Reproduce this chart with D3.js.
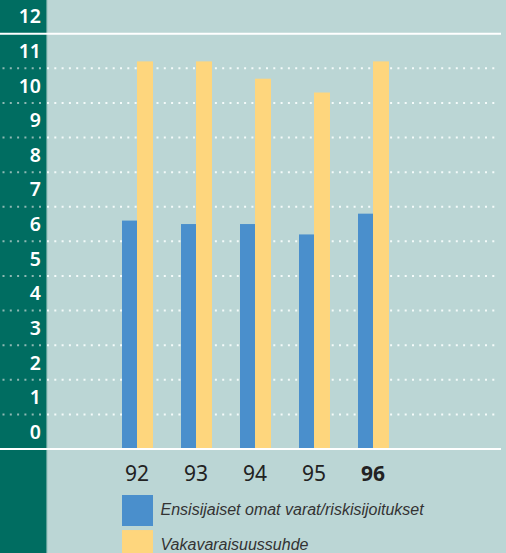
<!DOCTYPE html>
<html>
<head>
<meta charset="utf-8">
<script src="https://cdn.jsdelivr.net/npm/d3@7"></script>
<style>
  html, body { margin: 0; padding: 0; background: #bbd6d5; }
  svg { display: block; }
</style>
</head>
<body>
<svg id="chart" width="506" height="553"></svg>
<script>
const years = ["92", "93", "94", "95", "96"];
const seriesNames = ["Ensisijaiset omat varat/riskisijoitukset", "Vakavaraisuussuhde"];
const tier1 = [6.6, 6.5, 6.5, 6.2, 6.8];
const solvency = [11.2, 11.2, 10.7, 10.3, 11.2];
const yTicks = [0, 1, 2, 3, 4, 5, 6, 7, 8, 9, 10, 11, 12];
const colors = ["#4a8fcc", "#fed67d"];

const svg = d3.select("#chart");
const W = 506, H = 553;

const y = d3.scaleLinear().domain([0, 12]).range([449, 33.7]);
const x = d3.scaleBand().domain(years).range([107.5, 402.5]).padding(0);
const xs = d3.scaleOrdinal().domain(seriesNames).range([-15, 0]);
const ws = d3.scaleOrdinal().domain(seriesNames).range([15, 16]);

// background
svg.append("rect").attr("width", W).attr("height", H).attr("fill", "#bbd6d5");
// left dark panel
svg.append("rect").attr("x", 0).attr("y", 0).attr("width", 46).attr("height", H).attr("fill", "#006d61");
svg.append("rect").attr("x", 46).attr("y", 0).attr("width", 1.2).attr("height", H).attr("fill", "#5c9f97");

// dotted gridlines (values 1..11)
const grid = svg.append("g");
yTicks.filter(v => v >= 1 && v <= 11).forEach(v => {
  grid.append("line")
    .attr("x1", 47).attr("x2", 498)
    .attr("y1", y(v)).attr("y2", y(v))
    .attr("stroke", "#f4fbfa").attr("stroke-width", 2)
    .attr("stroke-dasharray", "2,5.3");
  grid.append("line")
    .attr("x1", 2.5).attr("x2", 46)
    .attr("y1", y(v)).attr("y2", y(v))
    .attr("stroke", "#8fb9b4").attr("stroke-width", 2)
    .attr("stroke-dasharray", "2,5.3");
});

// bars
const data = [tier1, solvency];
data.forEach((vals, si) => {
  svg.append("g").selectAll("rect").data(vals).join("rect")
    .attr("x", (d, i) => x(years[i]) + x.bandwidth() / 2 + xs(seriesNames[si]))
    .attr("width", ws(seriesNames[si]))
    .attr("y", d => y(d))
    .attr("height", d => y(0) - y(d))
    .attr("fill", colors[si]);
});

// solid white lines at 12 and 0
[12, 0].forEach(v => {
  svg.append("line")
    .attr("x1", 0).attr("x2", 501)
    .attr("y1", y(v)).attr("y2", y(v))
    .attr("stroke", "#ffffff").attr("stroke-width", 2);
});

// y labels (placed in band above each value)
const yAxis = d3.axisLeft(y).tickValues(yTicks).tickSize(0).tickFormat(d => d);
const gy = svg.append("g").attr("transform", "translate(41,0)").call(yAxis);
gy.select(".domain").remove();
gy.selectAll(".tick").attr("transform", d => `translate(0,${(y(d) + y(d + 1)) / 2})`);
gy.selectAll("text")
  .attr("x", 0).attr("dy", "0.36em")
  .attr("fill", "#ffffff")
  .style("font-family", "'Noto Sans', 'DejaVu Sans', sans-serif")
  .style("font-size", "19.5px")
  .style("font-weight", "600");

// x labels
const xAxis = d3.axisBottom(x).tickSize(0);
const gx = svg.append("g").attr("transform", "translate(0,462)").call(xAxis);
gx.select(".domain").remove();
gx.selectAll("text")
  .attr("y", 0).attr("dy", "0.9em")
  .attr("fill", "#222")
  .style("font-family", "'Noto Sans', 'DejaVu Sans', sans-serif")
  .style("font-size", "21px")
  .style("font-weight", d => d === "96" ? "700" : "400");

// legend
const legY = d3.scaleBand().domain(seriesNames).range([495, 563]).paddingInner(0.06);
const leg = svg.append("g");
seriesNames.forEach((name, i) => {
  leg.append("rect")
    .attr("x", 122).attr("y", legY(name))
    .attr("width", 31).attr("height", 31)
    .attr("fill", colors[i]);
  leg.append("text")
    .attr("x", 160.5).attr("y", legY(name) + 20)
    .attr("fill", "#333")
    .style("font-family", "'Liberation Sans', Arial, sans-serif")
    .style("font-style", "italic")
    .style("font-size", "16px")
    .text(name);
});
</script>
</body>
</html>
